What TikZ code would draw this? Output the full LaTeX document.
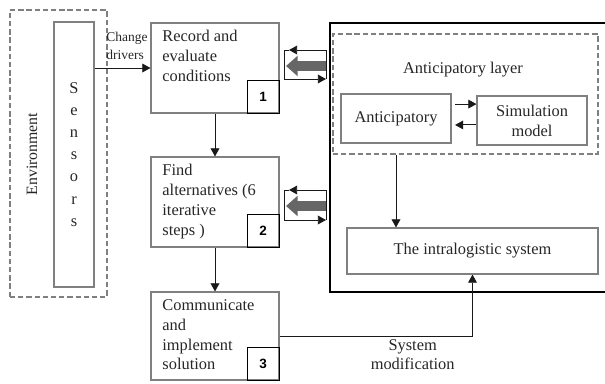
\documentclass[tikz,border=0pt]{standalone}
\usepackage{fontspec}
\setmainfont{Liberation Serif}
\setsansfont{Liberation Sans}
\usetikzlibrary{positioning,arrows.meta}

\begin{document}
\begin{tikzpicture}[x=0.03cm, y=-0.03cm,
    every node/.style={font=\fontsize{14pt}{17pt}\selectfont, text=black!85},
    >={Triangle[length=7pt,width=7.5pt]},
    stepbox/.style={draw=black!50, line width=0.9pt, minimum width=3.84cm, minimum height=2.7cm},
    numbox/.style={draw=black, line width=0.8pt, minimum width=0.96cm, minimum height=0.99cm,
                   anchor=south east, font=\fontsize{11.5pt}{13pt}\sffamily\bfseries, text=black},
    steptext/.style={anchor=north west, align=left, inner xsep=10pt, inner ysep=6.5pt},
    plainbox/.style={draw=black!50, line width=0.9pt, align=center},
    dashbox/.style={draw=black!50, line width=0.9pt, dash pattern=on 4.5pt off 2.5pt},
    link/.style={line width=0.8pt, draw=black!90},
    fat/.style={draw=black!60, line width=8pt, -{Triangle[length=10pt,width=17pt]}}]

    \useasboundingbox (0,0) rectangle (605,383);

    % Environment and sensors
    \node[dashbox, minimum width=2.91cm, minimum height=8.61cm] (env) at (58.5,153.5) {};
    \node[rotate=90, font=\fontsize{13.5pt}{16pt}\selectfont] (envlab) at (32,154) {Environment};
    \node[plainbox, minimum width=1.2cm, minimum height=7.95cm,
          font=\fontsize{14pt}{18.9pt}\selectfont] (sens) at (74,154.5) {S\\e\\n\\s\\o\\r\\s};

    % Steps 1-3
    \node[stepbox] (box1) at (215,68) {};
    \node[stepbox] (box2) at (215,202) {};
    \node[stepbox, minimum height=2.64cm] (box3) at (215,336) {};
    \foreach \b/\n in {box1/1, box2/2, box3/3}
        \node[numbox] (num\n) at (\b.south east) {\n};
    \node[steptext] (text1) at (box1.north west) {Record and\\evaluate\\conditions};
    \node[steptext] (text2) at (box2.north west) {Find\\alternatives (6\\iterative\\steps )};
    \node[steptext] (text3) at (box3.north west) {Communicate\\and\\implement\\solution};

    \draw[link, ->] (sens.east |- box1.west) -- node[above=3pt, pos=0.58, align=left,
        font=\fontsize{11.5pt}{16pt}\selectfont] (chg) {Change\\drivers} (box1.west);
    \draw[link, ->] (box1) -- (box2);
    \draw[link, ->] (box2) -- (box3);

    % Feedback loops between steps and system
    \foreach \yt/\yb/\ym in {50/79/66, 190/220/206} {
        \draw[link, ->] (326,\yt) -- (289,\yt);
        \draw[link, ->] (289,\yt) -- (284,\yt) -- (284,\yb) -- (326,\yb);
        \draw[link] (326,\yt) -- (326,\yb);
        \draw[fat] (326,\ym) -- (286,\ym);
    }

    % System side
    \draw[line width=1.1pt] (606,23) -- (330,23) -- (330,292) -- (606,292);
    \node[dashbox, minimum width=7.95cm, minimum height=3.6cm] (layer) at (465.5,94) {};
    \node (laylab) at (463,70) {Anticipatory layer};
    \node[plainbox, minimum width=3.3cm, minimum height=1.47cm] (antic) at (396,118.5) {Anticipatory};
    \node[plainbox, minimum width=3.3cm, minimum height=1.47cm] (sim) at (532,120.5) {Simulation\\model};
    \node[plainbox, minimum width=7.53cm, minimum height=1.38cm] (intra) at (472.5,251) {The intralogistic system};

    \draw[link, ->] ([xshift=3pt, yshift=12.3pt]antic.east) -- ([yshift=12.3pt]antic.east -| sim.west);
    \draw[link, ->] ([yshift=-5.5pt]antic.east -| sim.west) -- ([xshift=3pt, yshift=-5.5pt]antic.east);
    \draw[link, ->] (antic.south |- layer.south) -- (antic.south |- intra.north);
    \draw[link, ->] (box3.east) -| node[pos=0.345, below, inner sep=3pt, align=center,
        font=\fontsize{14pt}{16pt}\selectfont] (sysmod) {System\\modification} (intra.south);
\end{tikzpicture}
\end{document}
